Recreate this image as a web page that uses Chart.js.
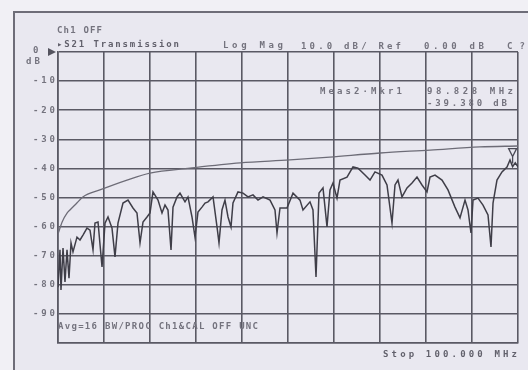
<!DOCTYPE html>
<html>
<head>
<meta charset="utf-8">
<script src="https://cdn.jsdelivr.net/npm/chart.js@4.4.1/dist/chart.umd.min.js"></script>
<style>
  html, body { margin: 0; padding: 0; background: #f1f0f5; }
  #wrap { position: relative; width: 528px; height: 370px; }
  canvas { display: block; }
</style>
</head>
<body>
<div id="wrap"><canvas id="c" width="528" height="370"></canvas></div>
<script>
// S21 transmission sweep, 0-100 MHz, log magnitude in dB
const traceFreq = [
  0, 0.43, 0.65, 1.09, 1.52, 1.96, 2.39, 2.83, 3.26, 4.13,
  4.78, 5.43, 6.3, 6.96, 7.61, 8.04, 8.7, 9.57, 10.22, 10.87,
  11.74, 12.39, 13.04, 14.13, 15.22, 16.3, 17.17, 17.83, 18.48, 19.35,
  20.0, 20.65, 21.74, 22.61, 23.26, 23.91, 24.57, 25.0, 25.87, 26.52,
  27.61, 28.26, 29.13, 29.78, 30.43, 31.3, 31.96, 32.61, 33.7, 34.57,
  35.0, 35.65, 36.3, 36.96, 37.61, 38.04, 39.13, 40.22, 41.3, 42.39,
  43.48, 44.57, 46.09, 47.17, 47.61, 48.26, 49.78, 51.09, 52.61, 53.26,
  54.78, 55.43, 56.09, 56.74, 57.61, 58.48, 59.13, 59.78, 60.65, 61.3,
  62.83, 64.13, 65.22, 66.74, 67.83, 68.91, 70.43, 71.52, 72.61, 73.26,
  73.91, 74.78, 75.87, 76.96, 78.04, 79.13, 80.22, 80.87, 81.96, 83.48,
  84.78, 86.3, 87.39, 88.48, 89.13, 89.78, 90.22, 91.3, 92.39, 93.48,
  94.13, 94.57, 95.43, 96.52, 97.61, 98.26, 98.828, 99.4, 100];
const traceDb = [
  -80.8, -68.0, -81.8, -67.4, -79.0, -68.0, -77.7, -65.6, -68.7, -63.6,
  -64.6, -62.9, -60.5, -61.2, -68.0, -58.8, -58.4, -73.9, -58.8, -56.7,
  -60.5, -70.4, -58.8, -51.9, -50.9, -53.6, -55.3, -65.6, -58.4, -56.7,
  -55.3, -48.1, -50.9, -55.3, -52.6, -54.3, -68.0, -53.3, -49.8, -48.5,
  -51.5, -49.8, -56.7, -63.6, -55.0, -53.3, -51.9, -51.5, -49.8, -60.1,
  -65.6, -54.3, -50.9, -56.7, -60.1, -51.9, -48.1, -48.5, -49.8, -49.1,
  -50.9, -49.8, -50.9, -54.3, -62.2, -53.6, -53.6, -48.5, -50.9, -54.3,
  -51.5, -54.3, -77.3, -48.5, -46.7, -60.1, -47.4, -45.0, -50.2, -44.0,
  -43.0, -39.5, -39.9, -42.3, -44.0, -41.2, -42.3, -45.7, -58.8, -45.7,
  -44.0, -49.8, -46.7, -45.0, -43.0, -45.7, -48.1, -43.0, -42.3, -44.0,
  -47.4, -53.3, -57.0, -50.9, -54.3, -62.2, -50.9, -50.2, -52.6, -56.0,
  -67.0, -51.9, -44.0, -41.2, -39.5, -37.1, -39.38, -38.1, -39.5];

// Memory trace (smooth reference curve)
const memFreq = [0, 0.43, 0.9, 2.0, 2.6, 4.1, 5.4, 9.1, 15, 20, 28.7, 39.6, 50.4, 59.1, 70, 80.9, 91.7, 100];
const memDb = [-62.5, -60.5, -58.4, -55.3, -54.3, -51.9, -49.8, -47.4, -44.0, -41.6, -39.9, -38.1,
  -37.1, -36.1, -34.7, -33.7, -32.6, -32.3];

const yTickLabels = ['-10', '-20', '-30', '-40', '-50', '-60', '-70', '-80', '-90'];
const yTickValues = [-10, -20, -30, -40, -50, -60, -70, -80, -90];

const markerFreq = 98.828;
const markerDb = -39.38;

const headerStatus = 'Ch1 OFF';
const headerTrace = '\u25B8S21 Transmission';
const headerFormat = 'Log Mag';
const headerScale = '10.0 dB/ Ref';
const headerRef = '0.00 dB';
const headerCal = 'C?';
const markerTitle = 'Meas2\u00B7Mkr1';
const markerFreqText = markerFreq.toFixed(3) + ' MHz';
const markerDbText = markerDb.toFixed(3) + ' dB';
const footerInfo = 'Avg=16 BW/PROC Ch1&CAL OFF UNC';
const stopText = 'Stop 100.000 MHz';

const FONT = 'bold 9px "DejaVu Sans Mono", monospace';

// Draws text stretched across a given width by spreading letters evenly
function fitText(ctx, text, x, y, width, color) {
  ctx.save();
  ctx.font = FONT;
  ctx.fillStyle = color;
  ctx.textBaseline = 'middle';
  ctx.textAlign = 'left';
  const chars = Array.from(text);
  const natural = chars.map(ch => ctx.measureText(ch).width);
  const total = natural.reduce((a, b) => a + b, 0);
  const gap = chars.length > 1 ? (width - total) / (chars.length - 1) : 0;
  let cx = x;
  chars.forEach((ch, i) => {
    ctx.fillText(ch, cx, y);
    cx += natural[i] + gap;
  });
  ctx.restore();
}

const screenDecor = {
  id: 'screenDecor',
  beforeDraw(chart) {
    const ctx = chart.ctx;
    ctx.save();
    ctx.fillStyle = '#f1f0f5';
    ctx.fillRect(0, 0, chart.width, chart.height);
    ctx.fillStyle = '#e9e8f0';
    ctx.fillRect(14, 12, chart.width - 14, chart.height - 12);
    ctx.strokeStyle = '#6e6d78';
    ctx.lineWidth = 2;
    ctx.beginPath();
    ctx.moveTo(14, chart.height);
    ctx.lineTo(14, 12);
    ctx.lineTo(chart.width, 12);
    ctx.stroke();
    ctx.restore();
  },
  afterDatasetsDraw(chart) {
    const ctx = chart.ctx;
    const xs = chart.scales.x, ys = chart.scales.y;
    const txt = '#74737e';

    // header annotations
    fitText(ctx, headerStatus, 57, 31, 45, txt);
    fitText(ctx, headerTrace, 57, 45, 122, '#62616c');
    fitText(ctx, headerFormat, 223, 46, 60, txt);
    fitText(ctx, headerScale, 301, 47, 100, txt);
    fitText(ctx, headerRef, 424, 47, 60, txt);
    fitText(ctx, headerCal, 507, 47, 18, txt);

    // y-axis labels at each division
    yTickValues.forEach((v, i) => {
      const w = 22;
      fitText(ctx, yTickLabels[i], 55 - w, ys.getPixelForValue(v), w, txt);
    });
    const yTop = ys.getPixelForValue(0);
    fitText(ctx, '0', 33, yTop - 1, 5, txt);
    fitText(ctx, 'dB', 26, yTop + 10, 14, txt);
    // reference level pointer
    ctx.save();
    ctx.fillStyle = '#55545f';
    ctx.beginPath();
    ctx.moveTo(48, yTop - 4);
    ctx.lineTo(56, yTop);
    ctx.lineTo(48, yTop + 4);
    ctx.closePath();
    ctx.fill();
    ctx.restore();

    // marker readout
    fitText(ctx, markerTitle, 320, 92, 82, txt);
    fitText(ctx, markerFreqText, 427, 92, 86, txt);
    fitText(ctx, markerDbText, 427, 104, 80, txt);

    // marker glyph above the marked point
    const mx = xs.getPixelForValue(markerFreq);
    const my = ys.getPixelForValue(markerDb);
    ctx.save();
    ctx.strokeStyle = '#4a4955';
    ctx.lineWidth = 1.3;
    ctx.beginPath();
    ctx.moveTo(mx - 4, my - 18);
    ctx.lineTo(mx + 4, my - 18);
    ctx.lineTo(mx, my - 10);
    ctx.closePath();
    ctx.moveTo(mx, my - 10);
    ctx.lineTo(mx, my - 3);
    ctx.stroke();
    ctx.restore();

    // footer annotations
    fitText(ctx, footerInfo, 58, 327, 200, txt);
    fitText(ctx, stopText, 383, 355, 134, '#62616c');
  }
};

const chart = new Chart(document.getElementById('c'), {
  type: 'line',
  data: {
    datasets: [
      {
        label: 'S21',
        data: traceFreq.map((f, i) => ({ x: f, y: traceDb[i] })),
        borderColor: '#3f3e48',
        borderWidth: 1.5,
        pointRadius: 0,
        tension: 0,
        fill: false
      },
      {
        label: 'Memory',
        data: memFreq.map((f, i) => ({ x: f, y: memDb[i] })),
        borderColor: '#6d6c77',
        borderWidth: 1.3,
        pointRadius: 0,
        cubicInterpolationMode: 'monotone',
        fill: false
      }
    ]
  },
  options: {
    responsive: false,
    animation: false,
    layout: { padding: { left: 58, top: 52, right: 10, bottom: 27 } },
    plugins: { legend: { display: false }, tooltip: { enabled: false } },
    scales: {
      x: {
        type: 'linear', min: 0, max: 100,
        ticks: { display: false, stepSize: 10 },
        grid: { color: '#5a5964', lineWidth: 1.6, drawTicks: false },
        border: { display: true, color: '#5a5964', width: 1.6 }
      },
      y: {
        type: 'linear', min: -100, max: 0,
        ticks: { display: false, stepSize: 10 },
        grid: { color: '#5a5964', lineWidth: 1.6, drawTicks: false },
        border: { display: true, color: '#5a5964', width: 1.6 }
      }
    }
  },
  plugins: [screenDecor]
});
</script>
</body>
</html>
